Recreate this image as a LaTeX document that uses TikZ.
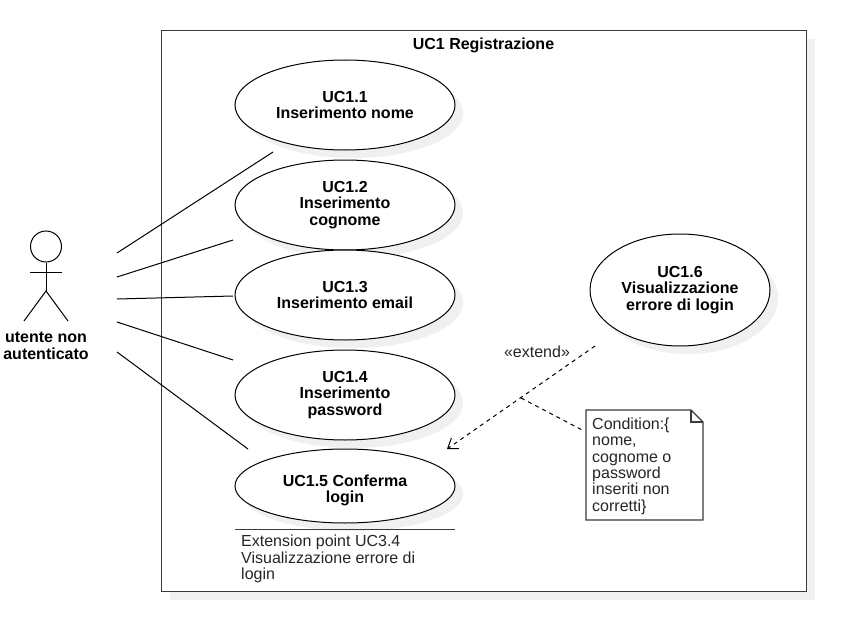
\documentclass[tikz,border=0pt]{standalone}
\usepackage{fontspec}
\setmainfont{Liberation Sans}
\usetikzlibrary{shapes.geometric,arrows.meta}
\definecolor{shadowc}{HTML}{F0F0F0}
\definecolor{framec}{HTML}{3A3A3A}
\tikzset{
  usecase/.style={ellipse,draw=black,line width=1pt,fill=white,minimum width=220pt,minimum height=90pt,inner sep=0pt,align=center,font=\fontsize{16}{16.4}\selectfont\bfseries},
  casesh/.style={ellipse,fill=shadowc,minimum width=220pt,minimum height=90pt,inner sep=0pt},
  link/.style={draw=black,line width=1pt},
  plain/.style={font=\fontsize{16}{16.4}\selectfont,text=black!85,align=left,inner sep=0pt},
  dashline/.style={draw=black,line width=1pt,dash pattern=on 4pt off 4pt}
}
\begin{document}
\begin{tikzpicture}[x=1pt,y=-1pt]
\useasboundingbox (0,0) rectangle (856,623);
\fill[white] (0,0) rectangle (856,623);
% frame
\fill[shadowc] (170,39) rectangle (815,600);
\node[draw=framec,line width=1.3pt,fill=white,minimum width=645pt,minimum height=561pt,inner sep=0pt,anchor=north west] (frame) at (161,30) {};
\node[font=\fontsize{16}{16.4}\selectfont\bfseries] (title) at (483.5,45) {UC1 Registrazione};
% shadows
\foreach \cy in {113,213,303,403} \node[casesh] at (353,\cy) {};
\node[casesh,minimum height=74pt] at (353,494) {};
\node[casesh,minimum width=180pt,minimum height=112pt] at (688,298) {};
% use cases
\node[usecase] (uc1) at (345,105) {UC1.1\\Inserimento nome};
\node[usecase] (uc2) at (345,205) {UC1.2\\Inserimento\\cognome};
\node[usecase] (uc3) at (345,295) {UC1.3\\Inserimento email};
\node[usecase] (uc4) at (345,395) {UC1.4\\Inserimento\\password};
\node[usecase,minimum height=74pt] (uc5) at (345,486) {};
\node[font=\fontsize{16}{16.4}\selectfont\bfseries,align=center,inner sep=0pt] (uc5text) at (345,490.5) {UC1.5 Conferma\\login};
\node[usecase,minimum width=180pt,minimum height=112pt] (uc6) at (680,290) {UC1.6\\Visualizzazione\\errore di login};
% actor
\node[circle,draw=black,line width=1pt,minimum size=31pt,inner sep=0pt] (head) at (46,246.5) {};
\coordinate (hip) at (46,291);
\coordinate (armL) at (30,272);
\coordinate (armR) at (62,272);
\coordinate (legL) at (24,321);
\coordinate (legR) at (68,321);
\draw[link] (head.south) -- (hip);
\draw[link] (armL) -- (armR);
\draw[link] (legL) -- (hip) -- (legR);
\node[font=\fontsize{16}{16.4}\selectfont\bfseries,align=center,inner sep=0pt] (actor) at (46,346) {utente non\\autenticato};
% associations
\coordinate (a1) at (117,253); \coordinate (e1) at (273,152);
\coordinate (a2) at (117,277); \coordinate (e2) at (233,240);
\coordinate (a3) at (117,299); \coordinate (e3) at (233,296);
\coordinate (a4) at (117,322); \coordinate (e4) at (233,360);
\coordinate (a5) at (117,352); \coordinate (e5) at (248,449);
\draw[link] (a1) -- (e1);
\draw[link] (a2) -- (e2);
\draw[link] (a3) -- (e3);
\draw[link] (a4) -- (e4);
\draw[link] (a5) -- (e5);
% extend
\coordinate (x1) at (595,346);
\coordinate (x2) at (447,449);
\coordinate (xm) at (521,398);
\coordinate (nt) at (584,431);
\draw[dashline,-{Straight Barb[length=9pt,width=13pt,line width=1pt]}] (x1) -- (x2);
\draw[dashline] (xm) -- (nt);
\node[font=\fontsize{16}{16.4}\selectfont,text=black!85] (ext) at (537,352) {«extend»};
% note
\path[draw=framec,line width=1.3pt,fill=white] (586,410) -- (691,410) -- (703,422) -- (703,520) -- (586,520) -- cycle;
\draw[draw=framec,line width=1.3pt] (691,410) -- (691,422) -- (703,422);
\node[plain,anchor=north west] (note) at (592,417.5) {Condition:\{\\nome,\\cognome o\\password\\inseriti non\\corretti\}};
% extension point
\coordinate (p1) at (235,529);
\coordinate (p2) at (455,529);
\draw[draw=framec,line width=1pt] (p1) -- (p2);
\node[plain,anchor=north west] (extp) at (241,535) {Extension point UC3.4\\Visualizzazione errore di\\login};
\end{tikzpicture}
\end{document}
